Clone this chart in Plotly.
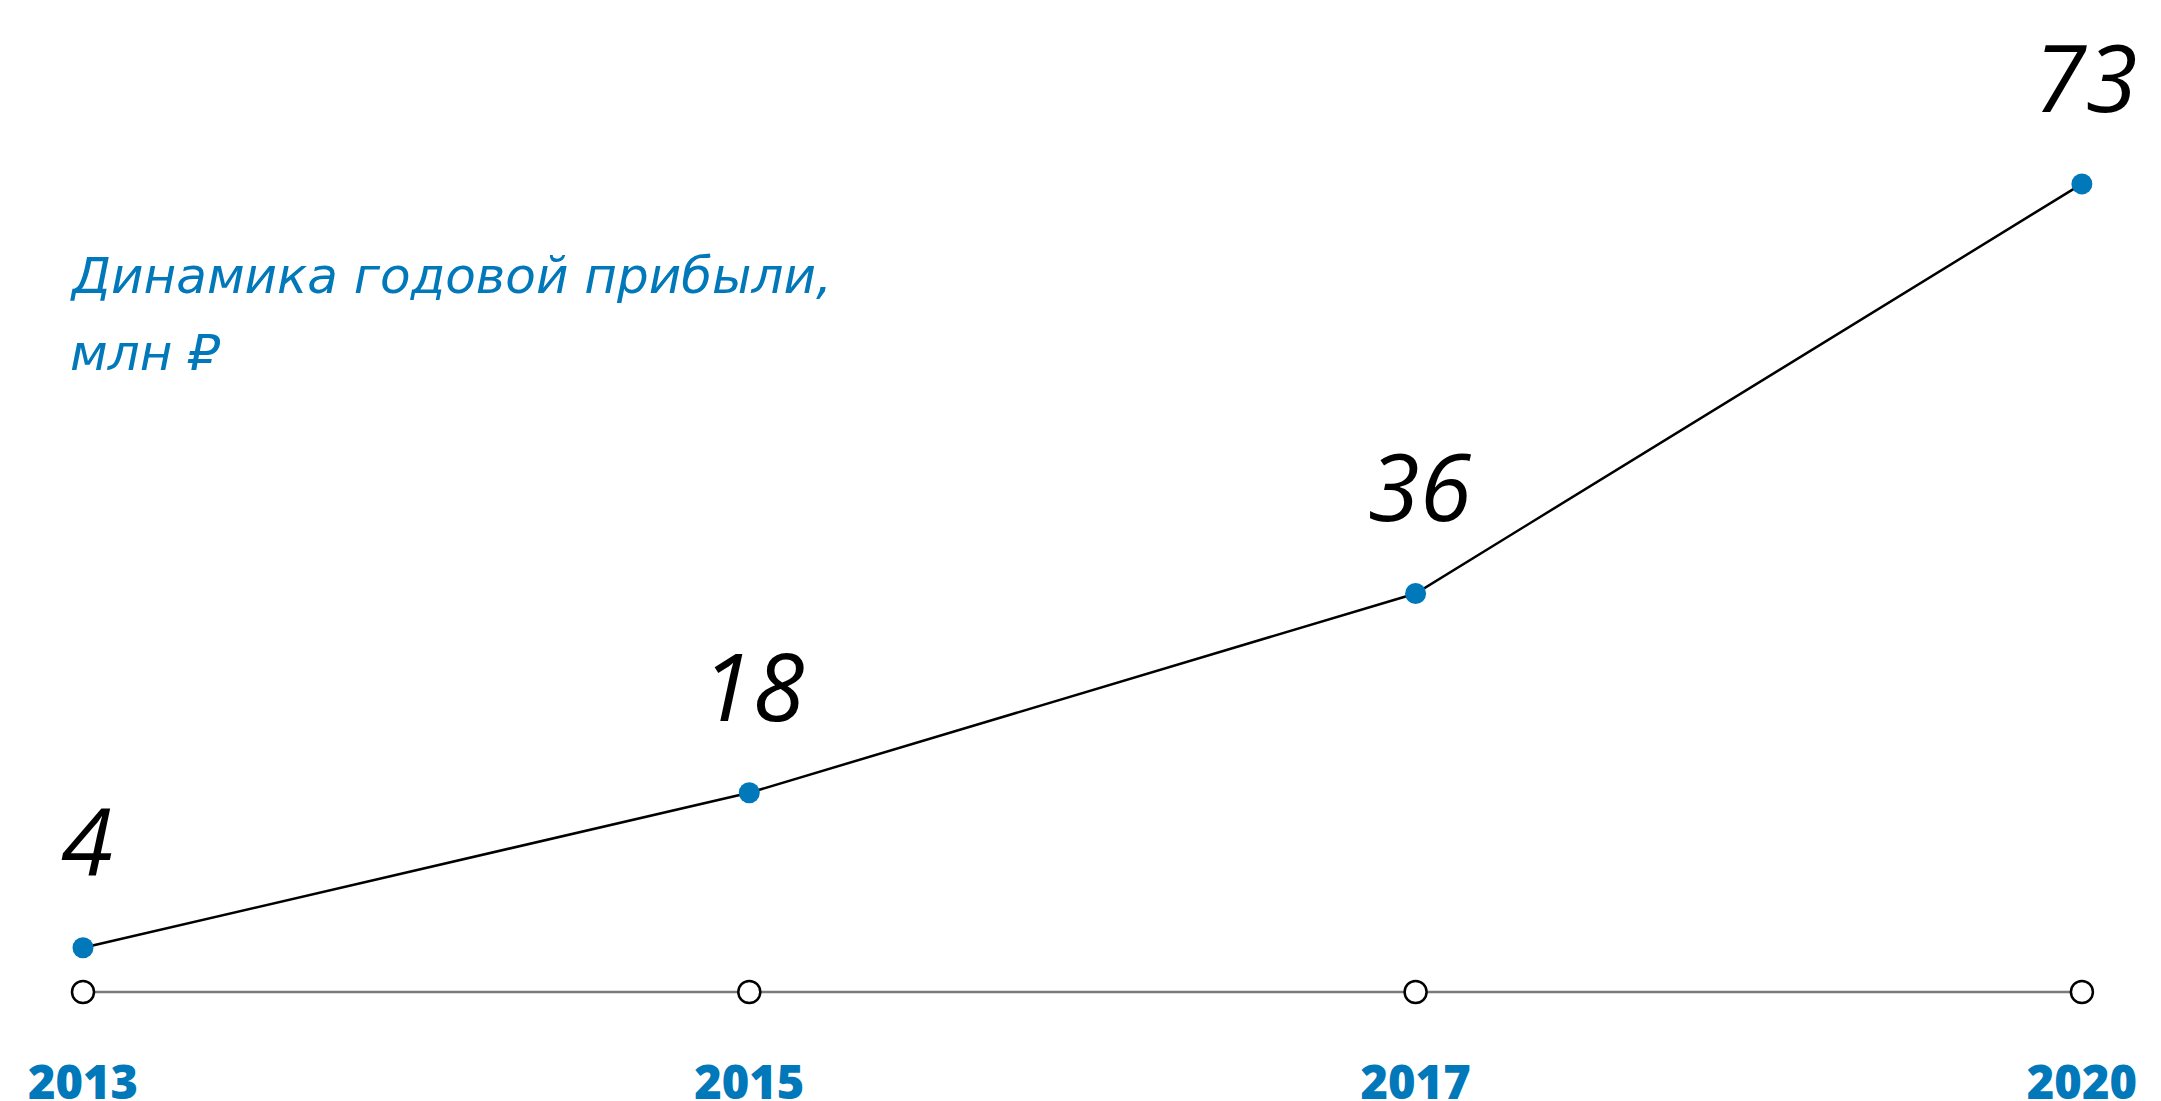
import plotly.graph_objects as go

# Data
years = ["2013", "2015", "2017", "2020"]
profit = [4, 18, 36, 73]
value_labels = ["4", "18", "36", "73"]
baseline = [0, 0, 0, 0]
title_lines = ["Динамика годовой прибыли,", "млн ₽"]

BLUE = "#0078B9"
W, H = 2161, 1101

fig = go.Figure()

# baseline axis with hollow markers
fig.add_trace(go.Scatter(
    x=years, y=baseline, mode="lines+markers",
    line=dict(color="#7a7a7a", width=2.5),
    marker=dict(size=22, color="white", line=dict(color="black", width=2.5)),
    hoverinfo="skip", showlegend=False))

# profit line
fig.add_trace(go.Scatter(
    x=years, y=profit, mode="lines+markers",
    line=dict(color="black", width=2.5),
    marker=dict(size=21, color=BLUE),
    showlegend=False))

# year labels under baseline
fig.add_trace(go.Scatter(
    x=years, y=[-8.6] * len(years), mode="text", text=years,
    textposition="middle center", cliponaxis=False,
    textfont=dict(family="Open Sans, DejaVu Sans", size=47, color=BLUE, weight=800),
    hoverinfo="skip", showlegend=False))

# value labels (category index used for x)
for i, (v, lab) in enumerate(zip(profit, value_labels)):
    fig.add_annotation(
        x=i, y=v, text=lab, showarrow=False, xref="x", yref="y",
        yshift=108, xshift=4,
        font=dict(family="Open Sans, DejaVu Sans", size=94, color="black", style="italic"))

# title
TITLE_FONT = dict(family="DejaVu Sans, Open Sans", size=50, color=BLUE, style="italic")
fig.add_annotation(
    x=68 / W, y=1 - 276 / H, xref="paper", yref="paper", xanchor="left", yanchor="middle",
    text=title_lines[0], showarrow=False, font=TITLE_FONT)
fig.add_annotation(
    x=68 / W, y=1 - 353 / H, xref="paper", yref="paper", xanchor="left", yanchor="middle",
    text=title_lines[1], showarrow=False, font=TITLE_FONT)

px_per_unit = 11.07
base_px = 992
fig.update_layout(
    width=W, height=H,
    margin=dict(l=0, r=0, t=0, b=0),
    paper_bgcolor="white", plot_bgcolor="white",
    xaxis=dict(type="category", range=[-83 / 666.3, (W - 83) / 666.3],
               visible=False, fixedrange=True),
    yaxis=dict(range=[(base_px - H) / px_per_unit, base_px / px_per_unit],
               visible=False, fixedrange=True),
)

fig.write_html("out.html", config={"displayModeBar": False},
               post_script="document.body.style.margin='0';document.body.style.overflow='hidden';")
